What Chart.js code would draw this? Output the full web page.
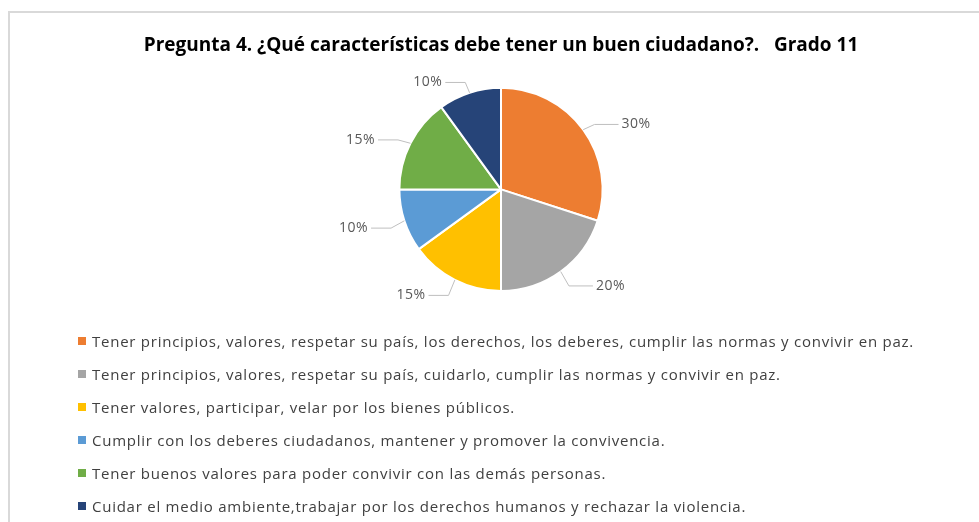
<!DOCTYPE html>
<html>
<head>
<meta charset="utf-8">
<script src="https://cdn.jsdelivr.net/npm/chart.js@4.4.1/dist/chart.umd.min.js"></script>
<style>
  html, body { margin: 0; padding: 0; background: #fff; }
  #wrap { position: relative; width: 979px; height: 522px; overflow: hidden; }
  #frame {
    position: absolute; left: 8px; top: 11px; width: 1000px; height: 600px;
    border-top: 2px solid #d9d9d9; border-left: 2px solid #d9d9d9;
  }
  #chartBox { position: absolute; left: 0; top: 0; width: 979px; height: 522px; }
  #legend {
    position: absolute; left: 78px; top: 324px;
    font-family: 'Open Sans', sans-serif; font-size: 15px; letter-spacing: 0.75px; color: #404040;
  }
  .leg-item { height: 33px; display: flex; align-items: center; white-space: nowrap; }
  .leg-box { width: 8px; height: 8px; margin-right: 6px; flex: none; }
</style>
</head>
<body>
<div id="wrap">
  <div id="frame"></div>
  <div id="chartBox"><canvas id="pieChart"></canvas></div>
  <div id="legend"></div>
</div>
<script>
// Chart data
const categories = [
    'Tener principios, valores, respetar su país, los derechos, los deberes, cumplir las normas y convivir en paz.',
    'Tener principios, valores, respetar su país, cuidarlo, cumplir las normas y convivir en paz.',
    'Tener valores, participar, velar por los bienes públicos.',
    'Cumplir con los deberes ciudadanos, mantener y promover la convivencia.',
    'Tener buenos valores para poder convivir con las demás personas.',
    'Cuidar el medio ambiente,trabajar por los derechos humanos y rechazar la violencia.'
];
const percentages = [30, 20, 15, 10, 15, 10];
const sliceColors = ['#ED7D31', '#A5A5A5', '#FFC000', '#5B9BD5', '#70AD47', '#264478'];
const chartTitle = 'Pregunta 4. ¿Qué características debe tener un buen ciudadano?.   Grado 11';

// Labels outside the pie with elbow leader lines
const outsideLabels = {
    id: 'outsideLabels',
    afterDatasetsDraw(chart) {
        const ctx = chart.ctx;
        const meta = chart.getDatasetMeta(0);
        ctx.save();
        ctx.font = '14px "Open Sans", sans-serif';
        ctx.letterSpacing = '0.5px';
        ctx.textBaseline = 'middle';
        meta.data.forEach((arc, i) => {
            const mid = (arc.startAngle + arc.endAngle) / 2;
            const r = arc.outerRadius;
            const cx = Math.cos(mid), cy = Math.sin(mid);
            const x1 = arc.x + cx * r, y1 = arc.y + cy * r;
            const x2 = arc.x + cx * (r + 14), y2 = arc.y + cy * (r + 14) + 3;
            const right = cx >= 0;
            const x3 = x2 + (right ? 24 : -20);
            ctx.strokeStyle = '#bfbfbf';
            ctx.lineWidth = 1;
            ctx.beginPath();
            ctx.moveTo(x1, y1);
            ctx.lineTo(x2, y2);
            ctx.lineTo(x3, y2);
            ctx.stroke();
            ctx.fillStyle = '#595959';
            ctx.textAlign = right ? 'left' : 'right';
            ctx.fillText(percentages[i] + '%', x3 + (right ? 3 : -3), y2);
        });
        ctx.restore();
    }
};

const pieChart = new Chart(document.getElementById('pieChart'), {
    type: 'pie',
    data: {
        labels: categories,
        datasets: [{
            data: percentages,
            backgroundColor: sliceColors,
            borderColor: '#ffffff',
            borderWidth: 2
        }]
    },
    options: {
        responsive: true,
        maintainAspectRatio: false,
        animation: false,
        layout: {
            padding: { top: 0, bottom: 230, left: 23, right: 0 }
        },
        plugins: {
            legend: { display: false },
            tooltip: { enabled: false },
            title: {
                display: true,
                text: chartTitle,
                color: '#000000',
                font: { family: "'Open Sans', sans-serif", size: 19, weight: 'bold' },
                padding: { top: 34, bottom: 30 }
            }
        }
    },
    plugins: [outsideLabels]
});

// Legend, one entry per line
const legendEl = document.getElementById('legend');
categories.forEach((name, i) => {
    const row = document.createElement('div');
    row.className = 'leg-item';
    row.innerHTML = `<span class="leg-box" style="background:${sliceColors[i]}"></span><span>${name}</span>`;
    legendEl.appendChild(row);
});
</script>
</body>
</html>
